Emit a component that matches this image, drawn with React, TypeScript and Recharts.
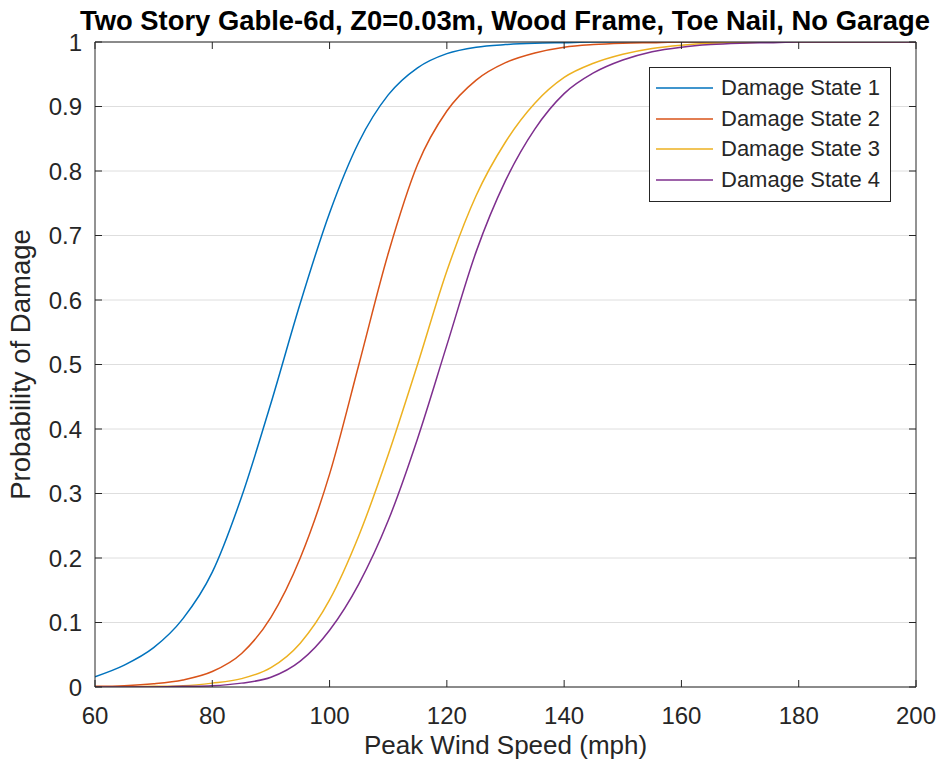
import { LineChart, Line, XAxis, YAxis, CartesianGrid, Legend } from "recharts"

const speeds = [60, 65, 70, 75, 80, 85, 90, 95, 100, 105, 110, 115, 120, 125, 130, 135, 140, 145, 150, 155, 160, 165, 170, 175, 180, 185, 190, 195, 200]

const ds1 = [0.016, 0.034, 0.061, 0.106, 0.178, 0.295, 0.44, 0.595, 0.735, 0.845, 0.918, 0.96, 0.982, 0.992, 0.996, 0.998, 0.999, 1, 1, 1, 1, 1, 1, 1, 1, 1, 1, 1, 1]
const ds2 = [0.001, 0.002, 0.005, 0.011, 0.024, 0.052, 0.108, 0.2, 0.33, 0.5, 0.672, 0.81, 0.893, 0.941, 0.968, 0.983, 0.992, 0.996, 0.998, 0.999, 1, 1, 1, 1, 1, 1, 1, 1, 1]
const ds3 = [0, 0, 0.001, 0.002, 0.006, 0.013, 0.03, 0.068, 0.135, 0.235, 0.36, 0.5, 0.645, 0.762, 0.845, 0.905, 0.945, 0.967, 0.981, 0.99, 0.995, 0.998, 0.999, 1, 1, 1, 1, 1, 1]
const ds4 = [0, 0, 0, 0.001, 0.002, 0.006, 0.015, 0.04, 0.088, 0.16, 0.258, 0.385, 0.53, 0.675, 0.785, 0.865, 0.92, 0.952, 0.972, 0.985, 0.992, 0.996, 0.998, 0.999, 1, 1, 1, 1, 1]

const seriesNames = ["Damage State 1", "Damage State 2", "Damage State 3", "Damage State 4"]
const xTicks = [60, 80, 100, 120, 140, 160, 180, 200]
const yTicks = [0, 0.1, 0.2, 0.3, 0.4, 0.5, 0.6, 0.7, 0.8, 0.9, 1]

const colors = ["#0072BD", "#D95319", "#EDB120", "#7E2F8E"]
const ink = "#262626"
const font = "'Liberation Sans', Arial, sans-serif"
const tickLen = 7

const data = speeds.map((s, i) => ({ speed: s, ds1: ds1[i], ds2: ds2[i], ds3: ds3[i], ds4: ds4[i] }))
const keys = ["ds1", "ds2", "ds3", "ds4"]

const fmtY = (v: number) => String(Number(v.toFixed(1)))

// matlab style ticks: short marks pointing into the plot box
function BottomTick({ x, y, payload }: any) {
  return (
    <g>
      <line x1={x} y1={y} x2={x} y2={y - tickLen} stroke={ink} />
      <text x={x} y={y + 37} textAnchor="middle" fontSize={24} fill={ink} fontFamily={font}>
        {payload.value}
      </text>
    </g>
  )
}

function TopTick({ x, y }: any) {
  return <line x1={x} y1={y} x2={x} y2={y + tickLen} stroke={ink} />
}

function LeftTick({ x, y, payload }: any) {
  return (
    <g>
      <line x1={x} y1={y} x2={x + tickLen} y2={y} stroke={ink} />
      <text x={x - 13} y={y + 8.5} textAnchor="end" fontSize={24} fill={ink} fontFamily={font}>
        {fmtY(payload.value)}
      </text>
    </g>
  )
}

function RightTick({ x, y }: any) {
  return <line x1={x} y1={y} x2={x - tickLen} y2={y} stroke={ink} />
}

function LegendBox({ payload }: any) {
  return (
    <div
      style={{
        width: 240,
        height: 128,
        border: `1px solid ${ink}`,
        background: "#fff",
        paddingTop: 5,
        boxSizing: "content-box",
        fontFamily: font,
      }}
    >
      {(payload || []).map((p: any) => (
        <div key={p.value} style={{ display: "flex", alignItems: "center", height: 30.5 }}>
          <svg width={71} height={4} style={{ flex: "none" }}>
            <line x1={6} y1={2} x2={63} y2={2} stroke={p.color} strokeWidth={1.5} />
          </svg>
          <span style={{ fontSize: 22, color: ink, lineHeight: "30.5px", whiteSpace: "nowrap" }}>{p.value}</span>
        </div>
      ))}
    </div>
  )
}

export default function App() {
  return (
    <div style={{ position: "absolute", left: 0, top: 0, width: 940, height: 770, background: "#fff" }}>
      <LineChart width={940} height={770} data={data} margin={{ top: 41, right: 23, bottom: 0, left: 0 }}>
        <CartesianGrid vertical={false} stroke="#dedede" strokeWidth={1} />
        <XAxis
          dataKey="speed"
          type="number"
          domain={[60, 200]}
          ticks={xTicks}
          allowDataOverflow
          height={83}
          stroke={ink}
          tickLine={false}
          tickSize={0}
          tickMargin={0}
          tick={<BottomTick />}
          label={{
            value: "Peak Wind Speed (mph)",
            position: "insideBottom",
            offset: 16,
            style: { fontSize: 26, fill: ink, fontFamily: font },
          }}
        />
        <XAxis
          xAxisId="top"
          orientation="top"
          dataKey="speed"
          type="number"
          domain={[60, 200]}
          ticks={xTicks}
          allowDataOverflow
          height={1}
          stroke={ink}
          tickLine={false}
          tickSize={0}
          tickMargin={0}
          tick={<TopTick />}
        />
        <YAxis
          type="number"
          domain={[0, 1]}
          ticks={yTicks}
          allowDataOverflow
          width={95}
          stroke={ink}
          tickLine={false}
          tickSize={0}
          tickMargin={0}
          tick={<LeftTick />}
          label={{
            value: "Probability of Damage",
            content: ({ viewBox }: any) => {
              const cx = viewBox.x + 30
              const cy = viewBox.y + viewBox.height / 2
              return (
                <text
                  x={cx}
                  y={cy}
                  transform={`rotate(-90 ${cx} ${cy})`}
                  textAnchor="middle"
                  fontSize={27.5}
                  fill={ink}
                  fontFamily={font}
                >
                  Probability of Damage
                </text>
              )
            },
          }}
        />
        <YAxis
          yAxisId="right"
          orientation="right"
          type="number"
          domain={[0, 1]}
          ticks={yTicks}
          allowDataOverflow
          width={1}
          stroke={ink}
          tickLine={false}
          tickSize={0}
          tickMargin={0}
          tick={<RightTick />}
        />
        {keys.map((k, i) => (
          <Line
            key={k}
            type="monotone"
            dataKey={k}
            name={seriesNames[i]}
            stroke={colors[i]}
            strokeWidth={1.5}
            dot={false}
            isAnimationActive={false}
          />
        ))}
        <Legend
          layout="vertical"
          align="center"
          verticalAlign="middle"
          content={<LegendBox />}
          wrapperStyle={{ position: "absolute", left: 649, top: 67, width: 242, height: 135 }}
        />
      </LineChart>
      <svg
        width={940}
        height={40}
        style={{ position: "absolute", left: 0, top: 0, pointerEvents: "none" }}
      >
        <text x={505} y={30} textAnchor="middle" fontSize={27.4} fontWeight="bold" fill="#000" fontFamily={font}>
          Two Story Gable-6d, Z0=0.03m, Wood Frame, Toe Nail, No Garage
        </text>
      </svg>
    </div>
  )
}
